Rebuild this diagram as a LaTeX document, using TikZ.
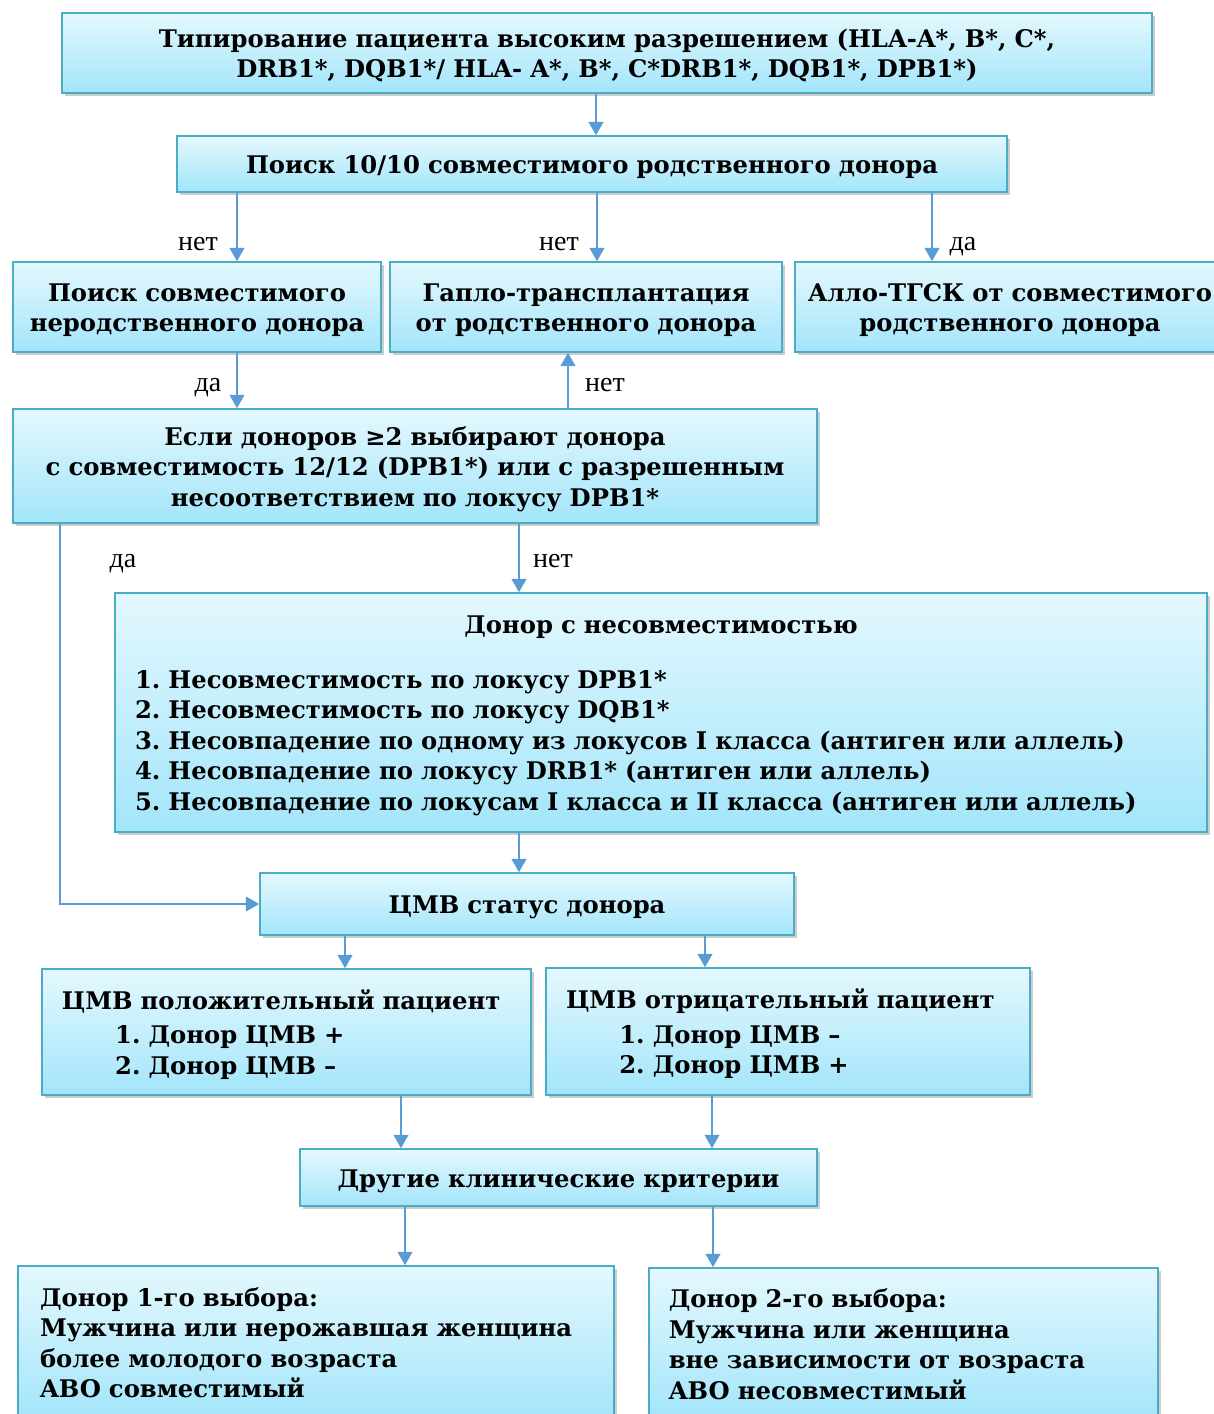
\documentclass[tikz,border=0pt]{standalone}
\usepackage{fontspec}
\setmainfont{DejaVu Serif}
\newfontfamily\lblfont{Liberation Serif}
\usetikzlibrary{shadows,arrows.meta,calc}
\definecolor{boxtop}{HTML}{E4F8FE}
\definecolor{boxbot}{HTML}{A3E5FA}
\definecolor{boxline}{HTML}{4BACC6}
\definecolor{arrcol}{HTML}{5B9BD5}
\frenchspacing
\tikzset{
  box/.style={draw=boxline, line width=1.2pt, top color=boxtop, bottom color=boxbot,
    drop shadow={shadow xshift=2pt, shadow yshift=-2.5pt, fill=black!40, opacity=0.5},
    font=\bfseries\fontsize{18.2}{22.9}\selectfont\frenchspacing, align=center, inner sep=0pt,
    execute at begin node={\rule{0pt}{18.5pt}},
    execute at end node={\rule[-4pt]{0pt}{4pt}}},
  bxat/.style n args={4}{minimum width={(#3-#1)*0.75pt}, minimum height={(#4-#2)*0.75pt},
    at={({(#1+#3)/2},{(#2+#4)/2})}},
  arr/.style={draw=arrcol, line width=1.5pt, -{Triangle[width=11pt,length=10pt]}},
  lbl/.style={font=\lblfont\fontsize{21}{22}\selectfont, inner sep=0pt, anchor=base},
}
\begin{document}
\begin{tikzpicture}[x=0.75pt,y=-0.75pt]
\useasboundingbox (0,0) rectangle (1214,1414);
\clip (0,0) rectangle (1214,1414);
% column coordinates for connectors
\foreach \xx in {60,237,345,401,405,519,568,596,597,705,712,713,932}
  {\coordinate (x\xx) at (\xx,0);}

\node[box,bxat={62}{13}{1152}{93},text width=797pt] (b1) {Типирование пациента высоким разрешением (HLA-A*, B*, C*,\\DRB1*, DQB1*/ HLA- A*, B*, C*DRB1*, DQB1*, DPB1*)};
\node[box,bxat={177}{136}{1007}{192},text width=602pt] (b2) {Поиск 10/10 совместимого родственного донора};
\node[box,bxat={13}{262}{381}{352},text width=270pt] (b3) {Поиск совместимого\\неродственного донора};
\node[box,bxat={390}{262}{782}{352},text width=285pt] (b4) {Гапло-трансплантация\\от родственного донора};
\node[box,bxat={795}{262}{1225}{352},text width=312pt] (b5) {Алло-ТГСК от совместимого\\родственного донора};
\node[box,bxat={13}{409}{817}{523},text width=590pt] (b6) {Если доноров ≥2 выбирают донора\\с совместимость 12/12 (DPB1*) или с разрешенным\\несоответствием по локусу DPB1*};
\node[box,bxat={115}{593}{1207}{832},text width=789pt,align=left] (b7) {\makebox[789pt][c]{Донор с несовместимостью}\\[18pt]
1. Несовместимость по локусу DPB1*\\
2. Несовместимость по локусу DQB1*\\
3. Несовпадение по одному из локусов I класса (антиген или аллель)\\
4. Несовпадение по локусу DRB1* (антиген или аллель)\\
5. Несовпадение по локусам I класса и II класса (антиген или аллель)};
\node[box,bxat={260}{873}{794}{935},text width=390pt] (b8) {ЦМВ статус донора};
\node[box,bxat={42}{969}{531}{1095},text width=337pt,align=left] (b9) {ЦМВ положительный пациент\\[3pt]
\hspace*{40pt}1. Донор ЦМВ +\\
\hspace*{40pt}2. Донор ЦМВ –};
\node[box,bxat={546}{968}{1030}{1095},text width=333pt,align=left] (b10) {ЦМВ отрицательный пациент\\[3pt]
\hspace*{40pt}1. Донор ЦМВ –\\
\hspace*{40pt}2. Донор ЦМВ +};
\node[box,bxat={300}{1149}{817}{1206},text width=378pt] (b11) {Другие клинические критерии};
\node[box,bxat={18}{1266}{614}{1419},text width=414pt,align=left] (b12) {Донор 1-го выбора:\\Мужчина или нерожавшая женщина\\более молодого возраста\\ABO совместимый};
\node[box,bxat={649}{1268}{1158}{1420},text width=352pt,align=left] (b13) {Донор 2-го выбора:\\Мужчина или женщина\\вне зависимости от возраста\\ABO несовместимый};

\draw[arr] (b1.south -| x596) -- (b2.north -| x596);
\draw[arr] (b2.south -| x237) -- (b3.north -| x237);
\draw[arr] (b2.south -| x597) -- (b4.north -| x597);
\draw[arr] (b2.south -| x932) -- (b5.north -| x932);
\draw[arr] (b3.south -| x237) -- (b6.north -| x237);
\draw[arr] (b6.north -| x568) -- (b4.south -| x568);
\draw[arr] (b6.south -| x60) |- (b8.west);
\draw[arr] (b6.south -| x519) -- (b7.north -| x519);
\draw[arr] (b7.south -| x519) -- (b8.north -| x519);
\draw[arr] (b8.south -| x345) -- (b9.north -| x345);
\draw[arr] (b8.south -| x705) -- (b10.north -| x705);
\draw[arr] (b9.south -| x401) -- (b11.north -| x401);
\draw[arr] (b10.south -| x712) -- (b11.north -| x712);
\draw[arr] (b11.south -| x405) -- (b12.north -| x405);
\draw[arr] (b11.south -| x713) -- (b13.north -| x713);

\node[lbl] (l1) at (198,250) {нет};
\node[lbl] (l2) at (559,250) {нет};
\node[lbl] (l3) at (963,250) {да};
\node[lbl] (l4) at (208,391) {да};
\node[lbl] (l5) at (605,391) {нет};
\node[lbl] (l6) at (123,567) {да};
\node[lbl] (l7) at (553,567) {нет};
\end{tikzpicture}
\end{document}
